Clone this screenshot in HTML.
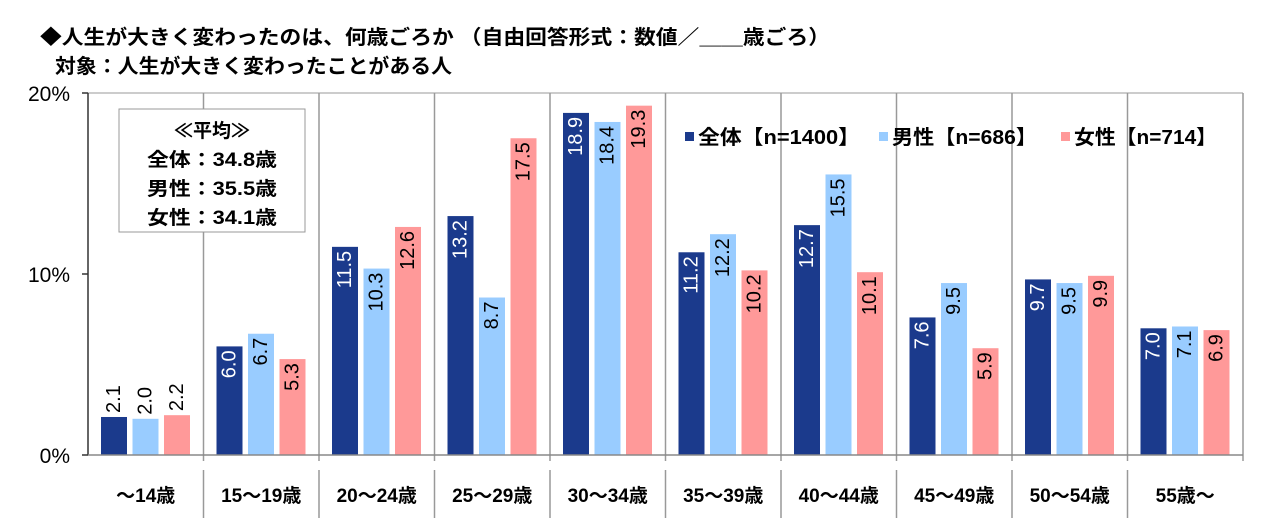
<!DOCTYPE html>
<html><head><meta charset="utf-8">
<style>
body{margin:0;background:#fff;}
svg{display:block;font-family:"Liberation Sans","Noto Sans CJK JP",sans-serif;}
</style></head>
<body>
<svg id="chart" width="1266" height="518" viewBox="0 0 1266 518">
<text x="40" y="44" font-size="20" font-weight="bold" textLength="790" lengthAdjust="spacingAndGlyphs">◆人生が大きく変わったのは、何歳ごろか （自由回答形式：数値／＿＿歳ごろ）</text>
<text x="55" y="73" font-size="20" font-weight="bold" textLength="397" lengthAdjust="spacingAndGlyphs">対象：人生が大きく変わったことがある人</text>
<g id="grid"></g>
<g id="bars"></g>
<g id="axes"></g>
<g>
<rect x="119" y="109" width="186" height="123" fill="#fff" stroke="#999" stroke-width="1"/>
<text x="212" y="137" font-size="19" font-weight="bold" text-anchor="middle">≪平均≫</text>
<text x="212" y="166" font-size="19" font-weight="bold" text-anchor="middle" textLength="130" lengthAdjust="spacingAndGlyphs">全体：34.8歳</text>
<text x="212" y="195" font-size="19" font-weight="bold" text-anchor="middle" textLength="130" lengthAdjust="spacingAndGlyphs">男性：35.5歳</text>
<text x="212" y="224" font-size="19" font-weight="bold" text-anchor="middle" textLength="130" lengthAdjust="spacingAndGlyphs">女性：34.1歳</text>
</g>
<g>
<rect x="685" y="132" width="9" height="9" fill="#1b3a8c"/>
<text x="698" y="144" font-size="20" font-weight="bold" textLength="162" lengthAdjust="spacingAndGlyphs">全体【n=1400】</text>
<rect x="879" y="132" width="9" height="9" fill="#99ccff"/>
<text x="892" y="144" font-size="20" font-weight="bold" textLength="145" lengthAdjust="spacingAndGlyphs">男性【n=686】</text>
<rect x="1061" y="132" width="9" height="9" fill="#ff9999"/>
<text x="1074" y="144" font-size="20" font-weight="bold" textLength="143" lengthAdjust="spacingAndGlyphs">女性【n=714】</text>
</g>
</svg>
<script>
const categories=["～14歳","15～19歳","20～24歳","25～29歳","30～34歳","35～39歳","40～44歳","45～49歳","50～54歳","55歳～"];
const allValues=[2.1,6.0,11.5,13.2,18.9,11.2,12.7,7.6,9.7,7.0];
const maleValues=[2.0,6.7,10.3,8.7,18.4,12.2,15.5,9.5,9.5,7.1];
const femaleValues=[2.2,5.3,12.6,17.5,19.3,10.2,10.1,5.9,9.9,6.9];
const yTicks=[0,10,20];
const yTickLabels=["0%","10%","20%"];

const NS="http://www.w3.org/2000/svg";
const X0=88,GW=115.5,Y0=455,Y20=93,YMAX=20;
const y=v=>Y0-(v/YMAX)*(Y0-Y20);
const xg=i=>X0+i*GW;
function mk(tag,attrs,parent,text){const e=document.createElementNS(NS,tag);for(const k in attrs)e.setAttribute(k,attrs[k]);if(text!==undefined)e.textContent=text;parent.appendChild(e);return e;}
const grid=document.getElementById('grid'),bars=document.getElementById('bars'),axes=document.getElementById('axes');
let tl=mk('line',{x1:X0,y1:Y20,x2:xg(10),y2:Y20,stroke:'#999','stroke-width':1},grid);


for(let i=1;i<=10;i++){
  const s=mk('line',{x1:xg(i),y1:Y20,x2:xg(i),y2:Y0+6,stroke:'#999','stroke-width':1.5},grid);
  
  
}
for(let i=1;i<10;i++){
  const s=mk('line',{x1:xg(i),y1:470,x2:xg(i),y2:518,stroke:'#999','stroke-width':1.5},grid);
  
  
}
const series=[[allValues,'#1b3a8c','#fff','all'],[maleValues,'#99ccff','#000','male'],[femaleValues,'#ff9999','#000','female']];
categories.forEach((c,i)=>{
  series.forEach((s,j)=>{
    const v=s[0][i],bx=xg(i)+13+j*31.5,by=y(v);
    const r=mk('rect',{x:bx,y:by,width:26,height:Y0-by,fill:s[1]},bars);
    
    
    const lbl=v.toFixed(1);
    const inside=(Y0-by)>48;
    const cy=inside?by+4:by-4;
    const t=mk('text',{x:bx+13,y:cy,'font-size':20,fill:inside?s[2]:'#000','text-anchor':inside?'end':'start','dominant-baseline':'central',transform:`rotate(-90 ${bx+13} ${cy})`},bars,lbl);
    
    
  });
  const ct=mk('text',{x:xg(i)+GW/2,y:502,'font-size':19,'font-weight':'bold','text-anchor':'middle'},axes,c);
  
  
});
let ax=mk('line',{x1:X0,y1:Y20,x2:X0,y2:Y0,stroke:'#333','stroke-width':1.5},axes);


let bx=mk('line',{x1:X0,y1:Y0,x2:xg(10),y2:Y0,stroke:'#888','stroke-width':1.5},axes);


yTicks.forEach((t,k)=>{
  const tk=mk('line',{x1:X0-6,y1:y(t),x2:X0,y2:y(t),stroke:'#333','stroke-width':1.5},axes);
  
  
  const tt=mk('text',{x:70,y:y(t)+8,'font-size':21,'text-anchor':'end'},axes,yTickLabels[k]);
  
  
});
</script>
</body></html>
